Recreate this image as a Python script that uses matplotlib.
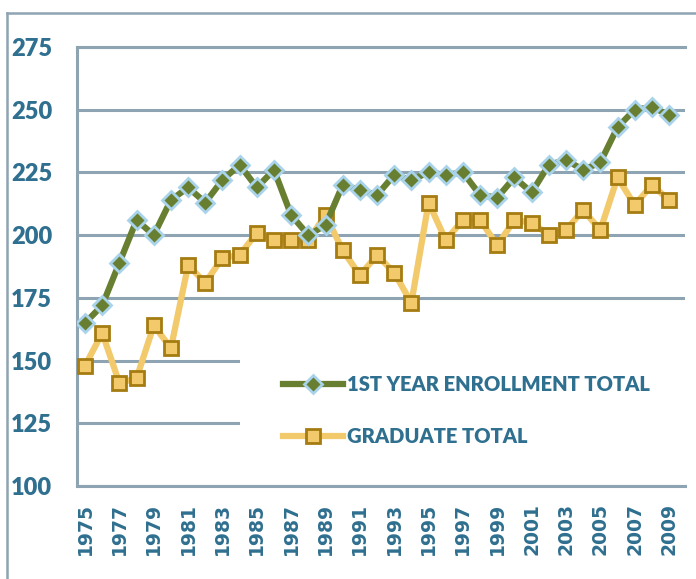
import matplotlib.pyplot as plt
from matplotlib.lines import Line2D
from matplotlib.patches import Rectangle

years = list(range(1975, 2010))
first_year = [165, 172, 189, 206, 200, 214, 219, 213, 222, 228,
              219, 226, 208, 200, 204, 220, 218, 216, 224, 222,
              225, 224, 225, 216, 215, 223, 217, 228, 230, 226,
              229, 243, 250, 251, 248]
graduate = [148, 161, 141, 143, 164, 155, 188, 181, 191, 192,
            201, 198, 198, 198, 208, 194, 184, 192, 185, 173,
            213, 198, 206, 206, 196, 206, 205, 200, 202, 210,
            202, 223, 212, 220, 214]
yticks = [100, 125, 150, 175, 200, 225, 250, 275]
xticks = years[::2]
labels = ['1ST YEAR ENROLLMENT TOTAL', 'GRADUATE TOTAL']

txt = '#2f6f8f'
grid = '#8fa4b3'
green, green_edge = '#687f32', '#a8d3ea'
gold, gold_face, gold_edge = '#f2c96b', '#f2c96b', '#a57c12'

W, H = 696, 579
fig = plt.figure(figsize=(W / 100, H / 100), dpi=100)
ax = fig.add_axes([77 / W, 1 - 486 / H, 608 / W, 439 / H])

# outer frame (top + left)
fig.add_artist(Line2D([7 / W, 1], [1 - 13 / H, 1 - 13 / H], transform=fig.transFigure, color=grid, lw=1.8))
fig.add_artist(Line2D([7 / W, 7 / W], [0, 1 - 13 / H], transform=fig.transFigure, color=grid, lw=1.8))

ax.plot(years, first_year, color=green, lw=4.5, marker='D', ms=9.5,
        mfc=green, mec=green_edge, mew=2, zorder=4, label=labels[0])
ax.plot(years, graduate, color=gold, lw=4.5, marker='s', ms=10.5,
        mfc=gold_face, mec=gold_edge, mew=2, zorder=3, label=labels[1])

ax.set_ylim(100, 275)
ax.set_xlim(1974.53, 2009.93)
ax.set_yticks(yticks)
ax.set_xticks(xticks)
ax.grid(axis='y', color=grid, lw=2.2)
ax.set_axisbelow(True)
ax.spines['right'].set_visible(False)
for s in ['left', 'top', 'bottom']:
    ax.spines[s].set_color(grid)
    ax.spines[s].set_linewidth(2.2)

ax.tick_params(axis='y', length=0, pad=47.5, labelcolor=txt)
ax.tick_params(axis='x', length=0, pad=12, labelcolor=txt)
for lab in ax.get_yticklabels():
    lab.set_ha('left')
    lab.set_fontfamily('Lato')
    lab.set_fontweight('heavy')
    lab.set_fontsize(17)
for lab in ax.get_xticklabels():
    lab.set_rotation(90)
    lab.set_fontfamily('DejaVu Sans')
    lab.set_fontweight('bold')
    lab.set_fontsize(13.5)

# white legend box hiding the gridlines
ax.add_patch(Rectangle(((240 - 77) / 608, (486 - 460) / 439), 1.02, (460 - 358) / 439,
                       transform=ax.transAxes, facecolor='white', edgecolor='none',
                       zorder=2, clip_on=False))

leg = fig.legend(loc='upper left', bbox_to_anchor=(283 / W, 1 - 375 / H),
                 frameon=False, handlelength=3.0, handletextpad=0.2, labelspacing=1.65,
                 borderpad=0, borderaxespad=0, prop={'family': 'Lato', 'weight': 'heavy', 'size': 14.5})
for t in leg.get_texts():
    t.set_color(txt)

fig.savefig('out.png', dpi=100)
